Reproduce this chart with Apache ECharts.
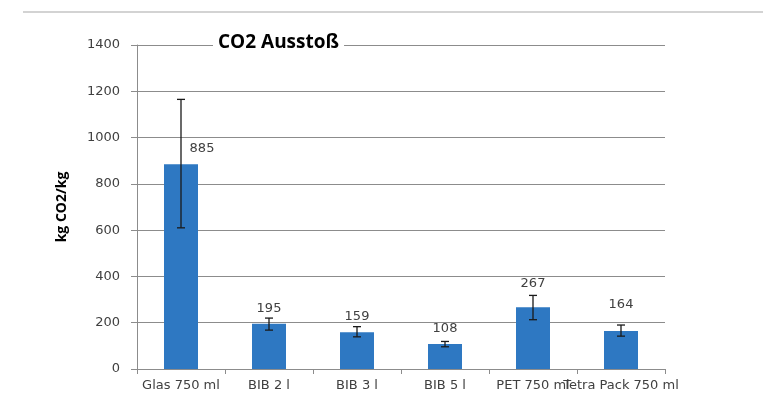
<!DOCTYPE html>
<html>
<head>
<meta charset="utf-8">
<script src="https://cdn.jsdelivr.net/npm/echarts@6/dist/echarts.min.js"></script>
<style>
  html, body { margin: 0; padding: 0; background: #fff; }
  #chart { width: 763px; height: 403px; }
</style>
</head>
<body>
<div id="chart"></div>
<script>
// Daten
const categories = ['Glas 750 ml', 'BIB 2 l', 'BIB 3 l', 'BIB 5 l', 'PET 750 ml', 'Tetra Pack 750 ml'];
const values = [885, 195, 159, 108, 267, 164];
const errLow = [610, 168, 139, 96, 213, 142];
const errHigh = [1165, 220, 183, 119, 318, 190];
const yTicks = [0, 200, 400, 600, 800, 1000, 1200, 1400];
// Verschiebung der Beschriftungen (wie im Original)
const labelShift = [[21, 0], [0, 0], [0, 0], [0, 0], [0, -8], [0, -11]];

const chart = echarts.init(document.getElementById('chart'));

const errData = categories.map((c, i) => [i, errLow[i], errHigh[i]]);
const fontSmall = 'DejaVu Sans';

chart.setOption({
  animation: false,
  title: {
    text: 'CO2 Ausstoß',
    left: 213,
    top: 33,
    padding: [0, 5],
    backgroundColor: '#fff',
    textStyle: {
      fontFamily: 'Open Sans',
      fontSize: 19,
      fontWeight: 'bold',
      color: '#000'
    }
  },
  // Linie oben
  graphic: [{
    type: 'line',
    shape: { x1: 23, y1: 12, x2: 763, y2: 12 },
    style: { stroke: '#c4c4c4', lineWidth: 1.5 }
  }],
  grid: { left: 137, right: 98, top: 45, bottom: 34 },
  xAxis: {
    type: 'category',
    data: categories,
    axisLine: { lineStyle: { color: '#8c8c8c' } },
    axisTick: { show: true, length: 5, lineStyle: { color: '#8c8c8c' } },
    axisLabel: {
      interval: 0,
      margin: 10,
      fontFamily: fontSmall,
      fontSize: 13,
      color: '#404040'
    }
  },
  yAxis: {
    type: 'value',
    min: yTicks[0],
    max: yTicks[yTicks.length - 1],
    interval: 200,
    name: 'kg CO2/kg',
    nameLocation: 'middle',
    nameGap: 68,
    nameTextStyle: {
      fontFamily: 'Open Sans',
      fontSize: 14,
      fontWeight: 'bold',
      color: '#000'
    },
    axisLine: { show: true, lineStyle: { color: '#8c8c8c' } },
    axisTick: { show: true, length: 6, lineStyle: { color: '#8c8c8c' } },
    axisLabel: {
      margin: 17,
      fontFamily: fontSmall,
      fontSize: 13,
      color: '#404040',
      formatter: function (v) { return String(v); }
    },
    splitLine: { lineStyle: { color: '#8c8c8c', width: 1 } }
  },
  series: [
    {
      type: 'bar',
      data: values.map((v, i) => ({ value: v, label: { offset: labelShift[i] } })),
      barWidth: 34,
      itemStyle: { color: '#2e78c2' },
      label: {
        show: true,
        position: 'top',
        distance: 9,
        fontFamily: fontSmall,
        fontSize: 13,
        color: '#404040'
      },
      z: 2
    },
    {
      // Fehlerbalken
      type: 'custom',
      data: errData,
      encode: { x: 0, y: [1, 2] },
      z: 3,
      renderItem: function (params, api) {
        const i = api.value(0);
        const lo = api.coord([i, api.value(1)]);
        const hi = api.coord([i, api.value(2)]);
        const cap = 4;
        const style = { stroke: '#1a1a1a', lineWidth: 1.3 };
        return {
          type: 'group',
          children: [
            { type: 'line', shape: { x1: lo[0], y1: lo[1], x2: hi[0], y2: hi[1] }, style: style },
            { type: 'line', shape: { x1: hi[0] - cap, y1: hi[1], x2: hi[0] + cap, y2: hi[1] }, style: style },
            { type: 'line', shape: { x1: lo[0] - cap, y1: lo[1], x2: lo[0] + cap, y2: lo[1] }, style: style }
          ]
        };
      }
    }
  ]
});
</script>
</body>
</html>
